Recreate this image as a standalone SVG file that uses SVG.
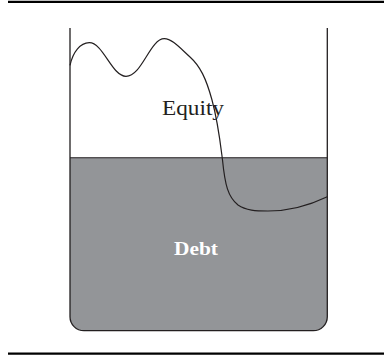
<svg xmlns="http://www.w3.org/2000/svg" width="384" height="356" viewBox="0 0 384 356">
<style>
.rule{stroke:#000;stroke-width:2.2;fill:none}
.wall{stroke:#231f20;stroke-width:1.3;fill:none}
.curve{stroke:#231f20;stroke-width:1.2;fill:none}
.lbl{font-family:"Liberation Serif","Times New Roman",serif;text-anchor:middle}
</style>
<rect width="384" height="356" fill="#fff"/>
<line class="rule" x1="8" y1="1.8" x2="384" y2="1.8"/>
<line class="rule" x1="8" y1="353.7" x2="384" y2="353.7"/>
<g id="debt">
<path d="M70,157.7 H327.3 V316.7 A14,14 0 0 1 313.3,330.7 H84 A14,14 0 0 1 70,316.7 Z" fill="#939598"/>
<line x1="70" y1="157.7" x2="327.3" y2="157.7" stroke="#231f20" stroke-width="1.1"/>
<text class="lbl" x="196" y="255" font-size="19" font-weight="bold" fill="#fff" textLength="44" lengthAdjust="spacingAndGlyphs">Debt</text>
</g>
<g id="container">
<path class="wall" d="M70,28 V316.7 A14,14 0 0 0 84,330.7 H313.3 A14,14 0 0 0 327.3,316.7 V28"/>
</g>
<g id="equity">
<text class="lbl" x="193" y="114.8" font-size="22" fill="#231f20" textLength="62" lengthAdjust="spacingAndGlyphs">Equity</text>
</g>
<g id="connectors">
<path class="curve" d="M70,65.3 C73,52 80,43 89.3,42.7 C103,42.5 112,76.3 126,76.3 C142,76.3 150,38.7 164.3,38.7 C172,38.7 180,48 190,57 C200,66 206,78 212,100 C218,122 220,140 222.5,160 C225,185 228,197 238,205 C246,210.5 256,211 268,211 C290,211 310,205 327.3,196.7"/>
</g>
</svg>
